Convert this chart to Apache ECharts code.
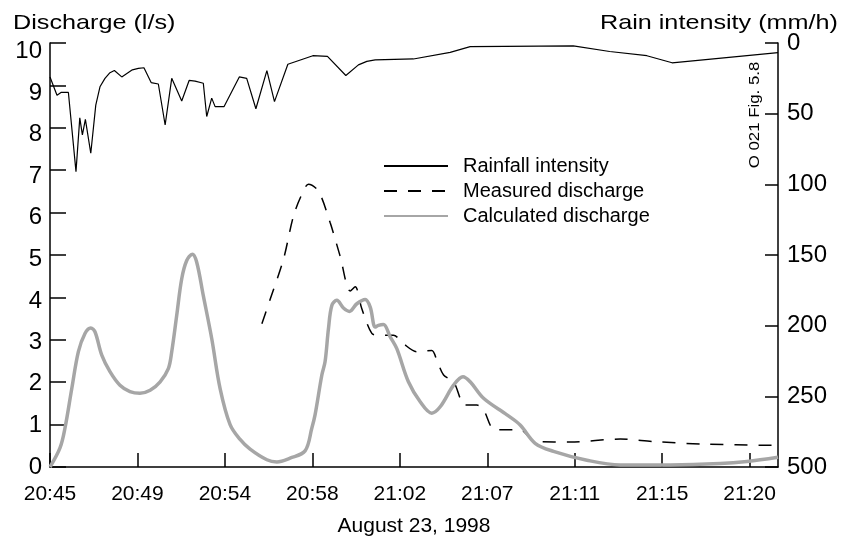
<!DOCTYPE html>
<html>
<head>
<meta charset="utf-8">
<script src="https://cdn.jsdelivr.net/npm/echarts@6/dist/echarts.min.js"></script>
<style>
  html, body { margin: 0; padding: 0; background: #fff; }
  #chart { width: 842px; height: 542px; }
</style>
</head>
<body>
<div id="chart"></div>
<script>
// Time axis: minutes after 20:45 on August 23, 1998
var tickMinutes = [0, 4.375, 8.75, 13.125, 17.5, 21.875, 26.25, 30.625, 35];
var tickLabels = ['20:45', '20:49', '20:54', '20:58', '21:02', '21:07', '21:11', '21:15', '21:20'];

// Rainfall intensity (mm/h), right axis
var rainTime = [0, 0.35, 0.55, 0.92, 1.30, 1.49, 1.62, 1.77, 2.04, 2.29, 2.50, 2.75, 3.00, 3.22, 3.59,
  4.12, 4.42, 4.70, 5.06, 5.42, 5.76, 6.09, 6.59, 6.96, 7.26, 7.67, 7.84, 8.09, 8.26, 8.71, 9.47,
  9.84, 10.30, 10.85, 11.23, 11.90, 13.15, 13.88, 14.80, 15.43, 15.85, 16.27, 18.18, 20.02, 21.02,
  26.18, 28.0, 29.86, 31.12, 36.42];
var rainValue = [24, 37, 35, 35, 91, 53, 65, 54, 78, 44, 31, 25, 21, 19.5, 24,
  19, 18, 17.5, 28, 29, 58, 25, 41, 26.5, 27, 28.5, 52, 39, 45, 45, 24,
  25, 46.5, 19.5, 41.5, 15, 9, 9.5, 23, 15.5, 13, 12, 11.3, 6.6, 2.6,
  2.1, 6, 9, 14, 6.8];

// Measured discharge (l/s)
var measuredTime = [10.60, 11.01, 11.68, 12.18, 12.60, 12.93, 13.43, 14.01, 14.51, 15.02, 15.27,
  15.60, 16.10, 16.43, 17.18, 17.68, 18.35, 19.10, 19.35, 19.69, 20.19, 20.52, 20.69, 21.36, 21.69,
  22.02, 22.19, 23.52, 24.27, 26.03, 28.53, 30.20, 32.70, 36.42];
var measuredValue = [3.38, 3.95, 4.9, 5.92, 6.43, 6.67, 6.51, 5.77, 4.98, 4.15, 4.25,
  3.73, 3.15, 3.11, 3.11, 2.91, 2.72, 2.75, 2.52, 2.17, 2.01, 1.62, 1.46, 1.46, 1.35,
  0.99, 0.88, 0.88, 0.60, 0.59, 0.66, 0.60, 0.54, 0.51];

// Calculated discharge (l/s)
var calcTime = [0, 0.50, 0.75, 1.09, 1.42, 1.75, 2.04, 2.25, 2.59, 3.00, 3.50, 4.00, 4.50, 5.01,
  5.51, 5.92, 6.09, 6.34, 6.59, 6.84, 7.12, 7.34, 7.67, 8.09, 8.51, 9.01, 9.51, 10.01, 10.85,
  11.35, 12.01, 12.76, 13.10, 13.26, 13.60, 13.76, 13.93, 14.10, 14.35, 14.68, 14.98, 15.35,
  15.77, 16.02, 16.27, 16.43, 16.68, 17.02, 17.35, 17.93, 18.52, 19.10, 19.52, 20.19, 20.66,
  21.02, 21.69, 22.86, 23.52, 24.27, 25.19, 26.86, 28.53, 31.03, 33.53, 34.87, 36.42];
var calcValue = [0, 0.45, 0.92, 1.85, 2.72, 3.15, 3.28, 3.19, 2.64, 2.25, 1.93, 1.78, 1.74, 1.81,
  2.01, 2.32, 2.72, 3.58, 4.44, 4.87, 5.02, 4.83, 4.04, 3.03, 1.85, 1.0, 0.65, 0.42, 0.17,
  0.12, 0.21, 0.38, 0.92, 1.23, 2.17, 2.48, 3.26, 3.81, 3.93, 3.75, 3.67, 3.85,
  3.95, 3.77, 3.30, 3.34, 3.36, 3.07, 2.79, 2.01, 1.54, 1.27, 1.42, 1.93, 2.13,
  2.01, 1.62, 1.23, 0.99, 0.56, 0.37, 0.16, 0.05, 0.05, 0.08, 0.13, 0.23];

function pairs(xs, ys) {
  return xs.map(function (x, i) { return [x, ys[i]]; });
}

var FONT = 'Liberation Sans, Arial, sans-serif';

// Discharge labels sit a little lower than their ticks towards the top of the scale
var dischargeRich = {};
for (var k = 0; k <= 10; k++) {
  dischargeRich['d' + k] = { fontFamily: FONT, fontSize: 24, color: '#000', padding: [Math.round(k * 1.7), 0, 0, 0] };
}

var chart = echarts.init(document.getElementById('chart'), null, { renderer: 'canvas' });

chart.setOption({
  animation: false,
  backgroundColor: '#ffffff',
  textStyle: { fontFamily: FONT, color: '#000' },
  grid: { left: 50, right: 64, top: 43, bottom: 73 },
  legend: {
    orient: 'vertical',
    left: 383,
    top: 156,
    padding: 0,
    itemWidth: 64,
    itemHeight: 12,
    itemGap: 5,
    itemStyle: { opacity: 0 },
    textStyle: { fontFamily: FONT, fontSize: 20, color: '#000', padding: [0, 0, 0, 10] },
    data: ['Rainfall intensity', 'Measured discharge', 'Calculated discharge']
  },
  xAxis: {
    type: 'value',
    min: 0,
    max: 36.42,
    name: 'August 23, 1998',
    nameLocation: 'middle',
    nameGap: 49,
    nameTextStyle: { fontFamily: FONT, fontSize: 21, color: '#000' },
    axisLine: { lineStyle: { color: '#000', width: 1.5 } },
    axisTick: { inside: true, length: 14, customValues: tickMinutes, lineStyle: { color: '#000', width: 1.5 } },
    axisLabel: {
      customValues: tickMinutes,
      fontFamily: FONT, fontSize: 21, color: '#000', margin: 17,
      formatter: function (v) {
        var i = tickMinutes.indexOf(v);
        return i >= 0 ? tickLabels[i] : '';
      }
    },
    splitLine: { show: false }
  },
  yAxis: [
    {
      type: 'value',
      min: 0, max: 10, interval: 1,
      position: 'left',
      axisLine: { show: true, lineStyle: { color: '#000', width: 1.5 } },
      axisTick: { show: true, inside: true, length: 16, lineStyle: { color: '#000', width: 1.5 } },
      axisLabel: {
        fontFamily: FONT, fontSize: 24, color: '#000', margin: 8,
        formatter: function (v) { return '{d' + v + '|' + v + '}'; },
        rich: dischargeRich
      },
      splitLine: { show: false }
    },
    {
      type: 'value',
      min: 0, max: 300, interval: 50,
      inverse: true,
      position: 'right',
      axisLine: { show: true, lineStyle: { color: '#000', width: 1.5 } },
      axisTick: { show: true, inside: true, length: 13, lineStyle: { color: '#000', width: 1.5 } },
      axisLabel: {
        fontFamily: FONT, fontSize: 24, color: '#000', margin: 9,
        formatter: function (v) { return v === 300 ? '500' : String(v); }
      },
      splitLine: { show: false }
    }
  ],
  graphic: [
    {
      type: 'text', x: 13, y: 23, scaleX: 1.2,
      style: { text: 'Discharge (l/s)', font: '21px ' + FONT, fill: '#000', align: 'left', verticalAlign: 'middle' }
    },
    {
      type: 'text', x: 838, y: 23, scaleX: 1.2,
      style: { text: 'Rain intensity (mm/h)', font: '21px ' + FONT, fill: '#000', align: 'right', verticalAlign: 'middle' }
    },
    {
      type: 'text', x: 755, y: 115, rotation: Math.PI / 2, scaleX: 1.2,
      style: { text: 'O 021 Fig. 5.8', font: '14px ' + FONT, fill: '#000', align: 'center', verticalAlign: 'middle' }
    }
  ],
  series: [
    {
      name: 'Rainfall intensity',
      type: 'line',
      yAxisIndex: 1,
      symbol: 'none',
      data: pairs(rainTime, rainValue),
      itemStyle: { color: '#000' },
      lineStyle: { color: '#000', width: 1.2 }
    },
    {
      name: 'Measured discharge',
      type: 'line',
      yAxisIndex: 0,
      symbol: 'none',
      smooth: 0.3,
      data: pairs(measuredTime, measuredValue),
      itemStyle: { color: '#000' },
      lineStyle: { color: '#000', width: 1.5, type: [13, 11] }
    },
    {
      name: 'Calculated discharge',
      type: 'line',
      yAxisIndex: 0,
      symbol: 'none',
      smooth: 0.35,
      data: pairs(calcTime, calcValue),
      itemStyle: { color: '#a6a6a6' },
      lineStyle: { color: '#a6a6a6', width: 3.5 }
    }
  ]
});
</script>
</body>
</html>
